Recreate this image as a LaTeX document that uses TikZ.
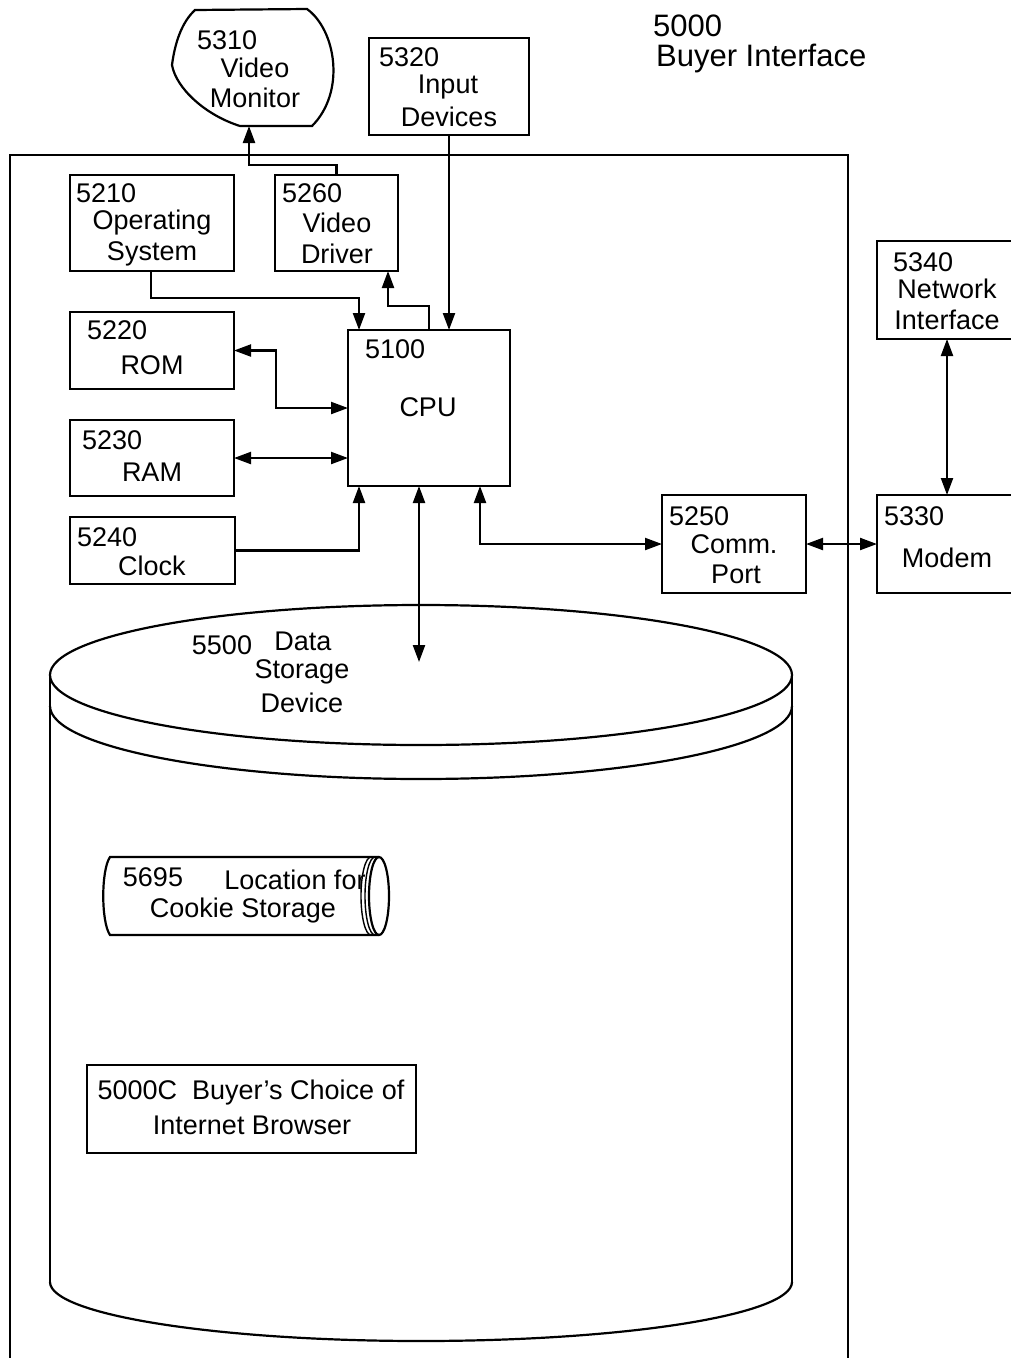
\documentclass[tikz,border=0pt]{standalone}
\usepackage{fontspec}
\setmainfont{Liberation Sans}
\usetikzlibrary{arrows.meta}
\begin{document}
\begin{tikzpicture}[x=1pt,y=-1pt, line width=2.2pt,
  box/.style={draw, line width=2.2pt, anchor=north west, inner sep=0pt, outer sep=0pt},
  lbl/.style={font=\fontsize{27}{30}\selectfont, inner sep=0pt},
  arr/.style={-{Triangle[length=17pt,width=12pt]}},
  darr/.style={{Triangle[length=17pt,width=12pt]}-{Triangle[length=17pt,width=12pt]}}]
\useasboundingbox[fill=white] (0,0) rectangle (1011,1358);

% outer frame
\draw (10,1360) -- (10,155) -- (848,155) -- (848,1360);

% title
\node[lbl, anchor=west, font=\fontsize{31}{33}\selectfont] (t1) at (652,26) {5000};
\node[lbl, anchor=west, font=\fontsize{31}{33}\selectfont] (t2) at (655,58) {Buyer Interface};

% video monitor
\draw (195,10) -- (307,9) .. controls (336,30) and (346,92) .. (312,126) -- (240,126)
  .. controls (205,115) and (176,88) .. (172,65) .. controls (175,42) and (182,22) .. (195,10) -- cycle;
\coordinate (monb) at (249,126);
\node[lbl, anchor=west] (m1) at (196,40) {5310};
\node[lbl] (m2) at (255,68) {Video};
\node[lbl] (m3) at (255,98) {Monitor};

% input devices
\node[box, minimum width=160pt, minimum height=97pt] (inp) at (369,38) {};
\node[lbl, anchor=west] (i1) at (378,57) {5320};
\node[lbl] (i2) at (448,87) {Input};
\node[lbl] (i3) at (449,117) {Devices};

% operating system
\node[box, minimum width=164pt, minimum height=96pt] (os) at (70,175) {};
\node[lbl, anchor=west] (o1) at (75,193) {5210};
\node[lbl] (o2) at (152,223) {Operating};
\node[lbl] (o3) at (152,254) {System};

% video driver
\node[box, minimum width=123pt, minimum height=96pt] (vd) at (275,175) {};
\node[lbl, anchor=west] (v1) at (281,193) {5260};
\node[lbl] (v2) at (337,223) {Video};
\node[lbl] (v3) at (337,254) {Driver};

% ROM
\node[box, minimum width=164pt, minimum height=77pt] (rom) at (70,312) {};
\node[lbl, anchor=west] (r1) at (86,330) {5220};
\node[lbl] (r2) at (152,365) {ROM};

% RAM
\node[box, minimum width=164pt, minimum height=76pt] (ram) at (70,420) {};
\node[lbl, anchor=west] (a1) at (81,440) {5230};
\node[lbl] (a2) at (152,472) {RAM};

% Clock
\node[box, minimum width=165pt, minimum height=67pt] (clk) at (70,517) {};
\node[lbl, anchor=west] (c1) at (76,537) {5240};
\node[lbl] (c2) at (152,566) {Clock};

% CPU
\node[box, line width=2.6pt, minimum width=162pt, minimum height=156pt] (cpu) at (348,330) {};
\node[lbl, anchor=west] (p1) at (364,349) {5100};
\node[lbl] (p2) at (428,407) {CPU};

% Comm port
\node[box, minimum width=144pt, minimum height=98pt] (comm) at (662,495) {};
\node[lbl, anchor=west] (cp1) at (668,516) {5250};
\node[lbl] (cp2) at (734,544) {Comm.};
\node[lbl] (cp3) at (736,574) {Port};

% Modem
\node[box, minimum width=140pt, minimum height=98pt] (modem) at (877,495) {};
\node[lbl, anchor=west] (md1) at (883,516) {5330};
\node[lbl] (md2) at (947,558) {Modem};

% Network interface
\node[box, minimum width=140pt, minimum height=98pt] (net) at (877,241) {};
\node[lbl, anchor=west] (n1) at (892,262) {5340};
\node[lbl] (n2) at (947,289) {Network};
\node[lbl] (n3) at (947,320) {Interface};

% data storage cylinder
\draw (421,675) ellipse [x radius=371pt, y radius=70pt];
\draw (50,706) arc[start angle=180, end angle=360, x radius=371pt, y radius=73pt];
\draw (50,675) -- (50,1282);
\draw (792,675) -- (792,1282);
\draw (50,1282) arc[start angle=180, end angle=360, x radius=371pt, y radius=59pt];
\coordinate (dstop) at (419,662);
\node[lbl] (d1) at (222,645) {5500};
\node[lbl] (d2) at (303,641) {Data};
\node[lbl] (d3) at (302,672) {Storage};
\node[lbl] (d4) at (302,703) {Device};

% cookie storage scroll
\draw (379,857) -- (110,857) .. controls (101,870) and (101,922) .. (110,935) -- (379,935);
\draw (379,896) ellipse [x radius=10pt, y radius=39pt];
\draw[line width=1.4pt] (375,857) arc[start angle=90, end angle=270, x radius=10pt, y radius=39pt];
\draw[line width=1.4pt] (371,857) arc[start angle=90, end angle=270, x radius=10pt, y radius=39pt];
\node[lbl] (k1) at (153,877) {5695};
\node[lbl] (k2) at (295,880) {Location for};
\node[lbl] (k3) at (243,911) {Cookie Storage};

% browser box
\node[box, minimum width=329pt, minimum height=88pt] (brw) at (87,1065) {};
\node[lbl] (b1) at (251,1093) {5000C\ \ Buyer's Choice of};
\node[lbl] (b2) at (252,1125) {Internet Browser};

% connectors
\draw[arr] (inp.south) -- (inp.south |- cpu.north);
\draw[arr] (vd.north) -- ++(0,-10) -| (monb);
\draw[arr] ([xshift=81pt]cpu.north west) -- ++(0,-24) -| ([xshift=113pt]vd.south west);
\draw[arr] ([xshift=81pt]os.south west) -- ++(0,27) -| ([xshift=11pt]cpu.north west);
\draw[darr] (rom.east) -- ++(42,0) |- (cpu.west);
\draw[darr] (ram.east) -- (ram.east -| cpu.west);
\draw[arr] (clk.east) -| ([xshift=11pt]cpu.south west);
\draw[darr] ([xshift=71pt]cpu.south west) -- (dstop);
\draw[darr] ([xshift=132pt]cpu.south west) |- (comm.west);
\draw[darr] (comm.east) -- (modem.west);
\draw[darr] (net.south) -- (modem.north);
\end{tikzpicture}
\end{document}
